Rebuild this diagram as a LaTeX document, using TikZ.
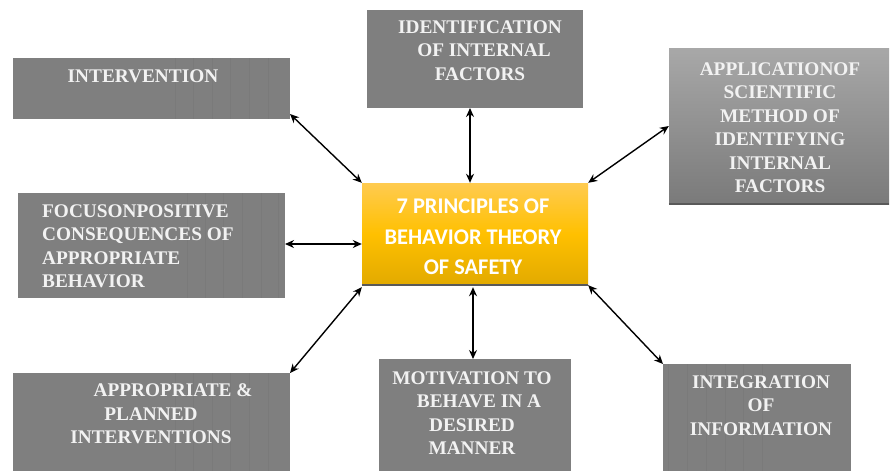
\documentclass[tikz,border=0pt]{standalone}
\usepackage{fontspec}
\setmainfont{Liberation Serif}
\newfontfamily\calfont{Carlito}
\usetikzlibrary{arrows.meta}
\definecolor{boxgray}{HTML}{7F7F7F}
\definecolor{stripegray}{HTML}{7A7A7A}
\definecolor{txtwhite}{HTML}{F2F2F2}
\definecolor{goldtop}{HTML}{FFCB50}
\definecolor{goldmid}{HTML}{FFC000}
\definecolor{goldbot}{HTML}{E2AA00}
\definecolor{apptop}{HTML}{A8A8A8}
\definecolor{appbot}{HTML}{7A7A7A}
\tikzset{
  graybox/.style={rectangle, fill=boxgray, inner sep=0pt, outer sep=0pt},
  boxtext/.style={inner sep=0pt, text=txtwhite, font=\bfseries\fontsize{19.3}{23.5}\selectfont, align=center},
  centertext/.style={inner sep=0pt, text=white, font=\calfont\bfseries\fontsize{22.4}{30.3}\selectfont, align=center},
  link/.style={line width=1.4pt, {Stealth[length=9pt,width=8pt]}-{Stealth[length=9pt,width=8pt]}},
  stripe/.style={stripegray, line width=0.6pt}
}
\begin{document}
\begin{tikzpicture}[x=1pt,y=-1pt]
\useasboundingbox (0,0) rectangle (890,471);
% boxes
\node[graybox, minimum width=277pt, minimum height=61pt] (interv) at (151.5,88.5) {};
\node[graybox, minimum width=216pt, minimum height=98pt] (ident) at (475,59) {};
\node[rectangle, inner sep=0pt, minimum width=220pt, minimum height=156pt, top color=apptop, bottom color=appbot] (appl) at (779,126) {};
\node[rectangle, inner sep=0pt, minimum width=226pt, minimum height=102pt, top color=goldtop, bottom color=goldbot, middle color=goldmid] (center) at (475,234) {};
\node[graybox, minimum width=267pt, minimum height=105pt] (focus) at (151.5,245.5) {};
\node[graybox, minimum width=277pt, minimum height=98pt] (approp) at (151.5,422) {};
\node[graybox, minimum width=192pt, minimum height=112pt] (motiv) at (475,415) {};
\node[graybox, minimum width=188pt, minimum height=107pt] (integ) at (757,417.5) {};
% bottom shadows
\draw[line width=1.5pt, color=black!65] (appl.south west) -- (appl.south east);
\draw[line width=1.5pt, color=black!65] (center.south west) -- (center.south east);
% faint stripes
\foreach \sx in {175,193,212,230,249,268} {
  \draw[stripe] (\sx,58) -- (\sx,119);
  \draw[stripe] (\sx,373) -- (\sx,471);
}
\foreach \sx in {187,205,223,242,261,278} {
  \draw[stripe] (\sx,193) -- (\sx,298);
}
\foreach \sx in {668,687,706,725,743,762} {
  \draw[stripe] (\sx,364) -- (\sx,471);
}
% texts
\node[boxtext, anchor=north] (tinterv) at (143,69.5) {INTERVENTION};
\node[boxtext, anchor=north] (tident) at (480,20.5) {IDENTIFICATION\\\hspace*{8pt}OF INTERNAL\\FACTORS};
\node[boxtext, anchor=north] (tappl) at (780,62.5) {APPLICATIONOF\\SCIENTIFIC\\METHOD OF\\IDENTIFYING\\INTERNAL\\FACTORS};
\node[boxtext, anchor=north west, align=left] (tfocus) at (42,204.5) {FOCUSONPOSITIVE\\CONSEQUENCES OF\\APPROPRIATE\\BEHAVIOR};
\node[boxtext, anchor=north] (tapprop) at (151,383.5) {\hspace*{44pt}APPROPRIATE \&\\PLANNED\\INTERVENTIONS};
\node[boxtext, anchor=north] (tmotiv) at (472,371.5) {MOTIVATION TO\\\hspace*{14pt}BEHAVE IN A\\DESIRED\\MANNER};
\node[boxtext, anchor=north] (tinteg) at (761,375.5) {INTEGRATION\\OF\\INFORMATION};
\node[centertext, anchor=north] (tcenter) at (473,199) {7 PRINCIPLES OF\\BEHAVIOR THEORY\\OF SAFETY};
% connectors
\draw[link] ([yshift=5pt]interv.south east) -- (center.north west);
\draw[link] ([xshift=-5pt]ident.south) -- ([xshift=-5pt]center.north);
\draw[link] (appl.west) -- (center.north east);
\draw[link] ([yshift=1.5pt]focus.east) -- ([yshift=1.5pt]focus.east -| center.west);
\draw[link] (approp.north east) -- ([yshift=-2pt]center.south west);
\draw[link] ([xshift=-2pt]motiv.north) -- ([xshift=-2pt,yshift=-2pt]center.south);
\draw[link] (integ.north west) -- (center.south east);
\end{tikzpicture}
\end{document}
